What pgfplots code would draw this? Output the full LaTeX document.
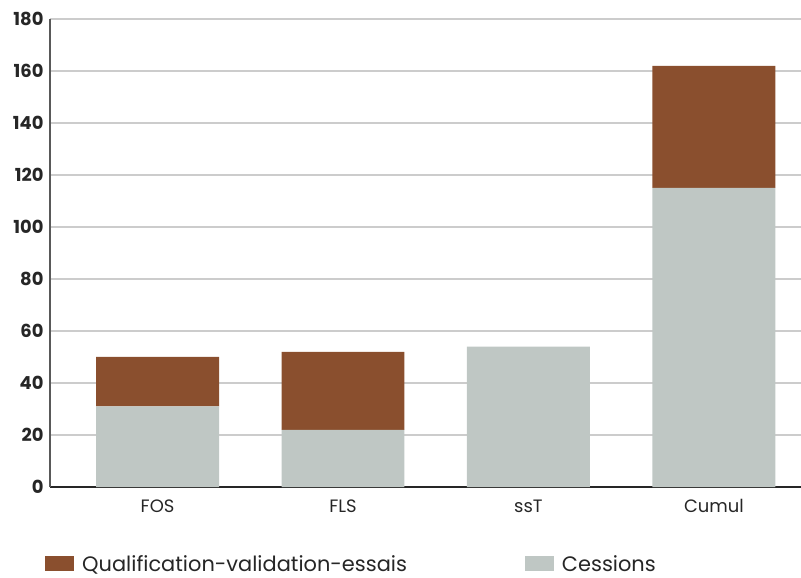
\documentclass[border=0pt]{standalone}
\usepackage{pgfplots}
\pgfplotsset{compat=1.18}
\usepackage{fontspec}
\setmainfont{Poppins}
\definecolor{brownq}{HTML}{8A4F2E}
\definecolor{greyc}{HTML}{BFC7C4}
\begin{document}
\begin{tikzpicture}
\begin{axis}[
  scale only axis, width=751bp, height=468bp,
  ybar stacked, bar width=0.663,
  xmin=-0.58, xmax=3.47, ymin=0, ymax=180,
  ytick={0,20,...,180},
  xtick={0,1,2,3}, xticklabels={FOS,FLS,ssT,Cumul},
  axis lines=left,
  axis line style={-, line width=2bp, color=black!65},
  x axis line style={color=black!85},
  major tick length=0pt,
  ymajorgrids, grid style={line width=1.5bp, color=black!20},
  /pgf/number format/assume math mode=true,
  yticklabel style={font=\fontsize{18}{21}\selectfont\bfseries, color=black!85, xshift=-3bp},
  xticklabel style={font=\fontsize{18}{21}\selectfont, color=black!85, yshift=-9bp},
  legend columns=2,
  reverse legend,
  legend style={at={(0,0)}, anchor=west, xshift=-5bp, yshift=-77bp, draw=none,
    inner sep=0pt,
    nodes={inner ysep=0.5bp},
    font=\fontsize{21}{24}\selectfont, text=black!85,
    /tikz/every odd column/.append style={column sep=6bp},
    /tikz/every even column/.append style={column sep=116bp}},
  legend image code/.code={\fill[#1] (0bp,-7bp) rectangle (29bp,8bp);},
]
\addplot[fill=greyc, draw=none] coordinates {(0,31) (1,22) (2,54) (3,115)};
\addlegendentry{Cessions}
\addplot[fill=brownq, draw=none] coordinates {(0,19) (1,30) (2,0) (3,47)};
\addlegendentry{Qualification-validation-essais}
\end{axis}
\pgfresetboundingbox
\path (current axis.south west) ++(-50bp,-91bp) rectangle ++(801bp,578bp);
\end{tikzpicture}
\end{document}
